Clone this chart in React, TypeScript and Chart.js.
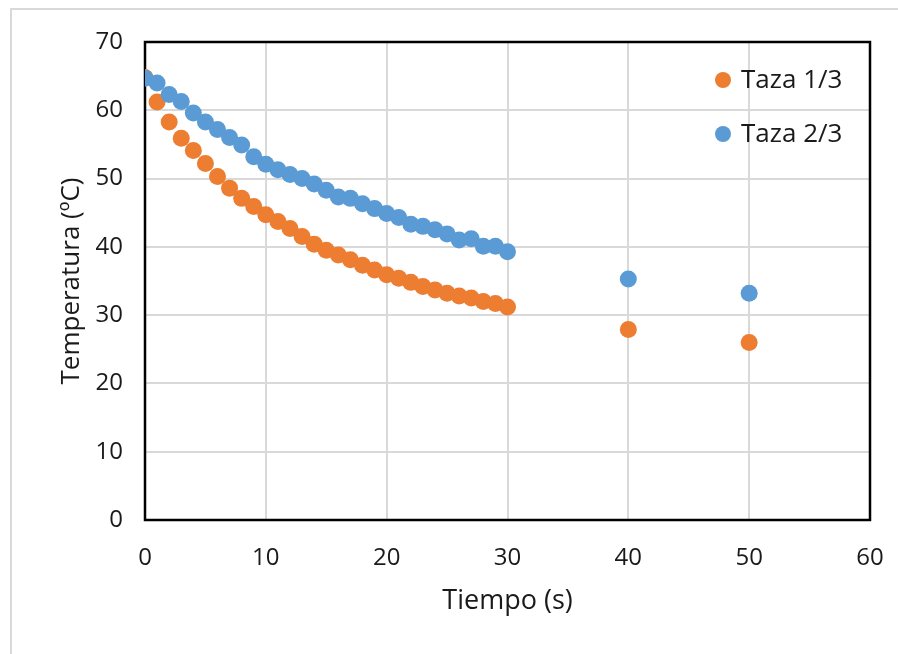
import React, { useEffect, useRef } from "react";
import { Chart, registerables } from "chart.js";

Chart.register(...registerables);

const seriesNames = ["Taza 1/3", "Taza 2/3"];
const seriesColors = ["#ED7D31", "#5B9BD5"];

const timeValues = [
  0, 1, 2, 3, 4, 5, 6, 7, 8, 9, 10, 11, 12, 13, 14, 15, 16, 17, 18, 19, 20,
  21, 22, 23, 24, 25, 26, 27, 28, 29, 30, 40, 50,
];

const taza13 = [
  64.8, 61.2, 58.3, 55.9, 54.1, 52.2, 50.3, 48.6, 47.1, 45.9, 44.7, 43.7,
  42.7, 41.5, 40.4, 39.5, 38.8, 38.1, 37.3, 36.6, 35.9, 35.4, 34.8, 34.2,
  33.7, 33.2, 32.8, 32.5, 32.0, 31.7, 31.2, 27.9, 26.0,
];

const taza23 = [
  64.7, 64.0, 62.3, 61.3, 59.6, 58.3, 57.2, 56.0, 54.9, 53.2, 52.1, 51.3,
  50.6, 50.0, 49.2, 48.3, 47.3, 47.1, 46.3, 45.6, 44.9, 44.3, 43.3, 43.0,
  42.5, 41.9, 41.0, 41.2, 40.1, 40.1, 39.3, 35.3, 33.2,
];

const xTitle = "Tiempo (s)";
const yTitle = "Temperatura (ºC)";

const FONT = "'Open Sans', 'Noto Sans', sans-serif";

export default function App() {
  const ref = useRef<HTMLCanvasElement | null>(null);

  useEffect(() => {
    if (!ref.current) return;

    const framePlugin = {
      id: "frame",
      beforeDraw(chart: any) {
        const ctx = chart.ctx;
        ctx.save();
        ctx.fillStyle = "#ffffff";
        ctx.fillRect(0, 0, chart.width, chart.height);
        ctx.strokeStyle = "#d9d9d9";
        ctx.lineWidth = 2;
        ctx.beginPath();
        ctx.moveTo(11, chart.height);
        ctx.lineTo(11, 9);
        ctx.lineTo(chart.width, 9);
        ctx.stroke();
        ctx.restore();
      },
      beforeDatasetsDraw(chart: any) {
        const { ctx, chartArea } = chart;
        ctx.save();
        ctx.strokeStyle = "#000000";
        ctx.lineWidth = 2.5;
        ctx.strokeRect(
          chartArea.left,
          chartArea.top,
          chartArea.right - chartArea.left,
          chartArea.bottom - chartArea.top
        );
        ctx.restore();
      },
      afterDraw(chart: any) {
        const ctx = chart.ctx;
        const { chartArea } = chart;
        const dotX = chartArea.right - 147;
        const startY = chartArea.top + 38;
        const gap = 54;
        ctx.save();
        ctx.font = `26px ${FONT}`;
        ctx.textBaseline = "middle";
        ctx.textAlign = "left";
        seriesNames.forEach((name, i) => {
          const y = startY + i * gap;
          ctx.fillStyle = seriesColors[i];
          ctx.beginPath();
          ctx.arc(dotX, y, 8, 0, Math.PI * 2);
          ctx.fill();
          ctx.fillStyle = "#1a1a1a";
          ctx.fillText(name, dotX + 18, y + 1);
        });
        ctx.restore();
      },
    };

    const chart = new Chart(ref.current, {
      type: "scatter",
      data: {
        datasets: [
          {
            label: seriesNames[0],
            data: timeValues.map((t, i) => ({ x: t, y: taza13[i] })),
            backgroundColor: seriesColors[0],
            borderWidth: 0,
            pointRadius: 8.5,
            order: 1,
          },
          {
            label: seriesNames[1],
            data: timeValues.map((t, i) => ({ x: t, y: taza23[i] })),
            backgroundColor: seriesColors[1],
            borderWidth: 0,
            pointRadius: 8.5,
            order: 0,
          },
        ],
      },
      options: {
        animation: false,
        responsive: false,
        devicePixelRatio: 1,
        layout: { padding: { left: 0, top: 42, right: 28, bottom: 0 } },
        plugins: {
          legend: { display: false },
          tooltip: { enabled: false },
        },
        scales: {
          x: {
            type: "linear",
            min: 0,
            max: 60,
            ticks: {
              stepSize: 10,
              padding: 24,
              color: "#1a1a1a",
              font: { family: FONT, size: 24 },
            },
            grid: {
              color: (c: any) =>
                c.tick && (c.tick.value === 0 || c.tick.value === 60)
                  ? "rgba(0,0,0,0)"
                  : "#d9d9d9",
              lineWidth: 2,
              drawTicks: false,
            },
            border: { display: false },
            title: {
              display: true,
              text: xTitle,
              color: "#1a1a1a",
              font: { family: FONT, size: 27 },
              padding: { top: 0, bottom: 36 },
            },
            afterFit(scale: any) {
              scale.height = 134;
              scale.paddingLeft = 0;
              scale.paddingRight = 0;
            },
          },
          y: {
            type: "linear",
            min: 0,
            max: 70,
            ticks: {
              stepSize: 10,
              padding: 22,
              color: "#1a1a1a",
              font: { family: FONT, size: 24 },
            },
            grid: {
              color: (c: any) =>
                c.tick && (c.tick.value === 0 || c.tick.value === 70)
                  ? "rgba(0,0,0,0)"
                  : "#d9d9d9",
              lineWidth: 2,
              drawTicks: false,
            },
            border: { display: false },
            title: {
              display: true,
              text: yTitle,
              color: "#1a1a1a",
              font: { family: FONT, size: 26 },
              padding: { top: 56, bottom: 0 },
            },
            afterFit(scale: any) {
              scale.width = 145;
              scale.paddingTop = 0;
              scale.paddingBottom = 0;
            },
          },
        },
      },
      plugins: [framePlugin],
    });

    return () => chart.destroy();
  }, []);

  return (
    <div style={{ position: "fixed", left: 0, top: 0, width: 898, height: 654, background: "#fff" }}>
      <canvas ref={ref} width={898} height={654} style={{ display: "block" }} />
    </div>
  );
}
